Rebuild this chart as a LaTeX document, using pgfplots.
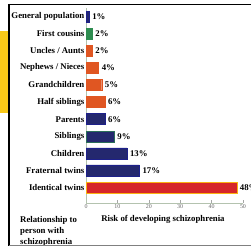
\documentclass[border=0pt]{standalone}
\usepackage{pgfplots}
\pgfplotsset{compat=1.18}
\usepackage{fontspec}
\setmainfont{Liberation Serif}
\definecolor{navy}{RGB}{36,40,110}
\definecolor{grn}{RGB}{46,140,80}
\definecolor{org}{RGB}{224,86,34}
\definecolor{redb}{RGB}{214,38,42}
\definecolor{ylw}{RGB}{248,200,24}
\definecolor{axgray}{RGB}{180,195,175}
\begin{document}
\begin{tikzpicture}
\path[use as bounding box] (0,0) rectangle (251bp,247bp);
\fill[white] (0,0) rectangle (251bp,247bp);
\fill[ylw] (0,134bp) rectangle (8.5bp,216bp);
\begin{axis}[
  at={(86bp,44bp)}, anchor=south west,
  scale only axis, width=157bp, height=195bp,
  xmin=0, xmax=50, ymin=-0.9, ymax=10.5,
  xbar, bar width=11bp,
  axis x line=bottom, axis y line=left,
  axis line style={-, draw=axgray, line width=0.6bp},
  xtick={0,10,...,50},
  tick align=inside, major tick length=3bp,
  x tick style={draw=gray!70, line width=0.5bp},
  xticklabel style={font=\fontsize{6}{7}\selectfont, text=gray!80!black, inner sep=1.5bp},
  /pgf/number format/assume math mode=true,
  ytick={0,...,10},
  yticklabels={Identical twins,Fraternal twins,Children,Siblings,Parents,Half siblings,Grandchildren,Nephews / Nieces,Uncles / Aunts,First cousins,General population},
  y tick style={draw=none},
  yticklabel style={font=\fontsize{8.8}{10}\selectfont\bfseries, inner sep=1.5bp},
  xlabel={Risk of developing schizophrenia},
  xlabel style={at={(axis description cs:0.49,0)}, anchor=center, yshift=-16bp, font=\fontsize{8.8}{10}\selectfont\bfseries},
  nodes near coords={\pgfmathprintnumber{\pgfplotspointmeta}\%},
  nodes near coords style={font=\fontsize{8.8}{10}\selectfont\bfseries, anchor=west, inner sep=3bp},
  clip=false,
]
\addplot[bar shift=0pt, fill=redb, draw=ylw!70!orange, line width=0.35bp] coordinates {(48,0)};
\addplot[bar shift=0pt, fill=navy, draw=navy!80!blue, line width=0.4bp] coordinates {(17,1) (13,2) (6,4) (1,10)};
\addplot[bar shift=0pt, fill=navy, draw=grn!70!navy, line width=0.35bp] coordinates {(9,3)};
\addplot[bar shift=0pt, fill=org, draw=org, line width=0.4bp] coordinates {(6,5) (5,6) (4,7) (2,8)};
\addplot[bar shift=0pt, fill=grn, draw=grn, line width=0.4bp] coordinates {(2,9)};
\end{axis}
\node[anchor=north west, align=left, inner sep=0pt, font=\fontsize{8.8}{11}\selectfont\bfseries] at (20bp,31bp) {Relationship to\\person with\\schizophrenia};
\draw[black, line width=1.6bp] (9bp,242.5bp) -- (252bp,242.5bp);
\draw[black, line width=1.2bp] (9bp,243bp) -- (9bp,1.5bp);
\draw[gray, line width=1bp] (9bp,1.5bp) -- (252bp,1.5bp);
\end{tikzpicture}
\end{document}
